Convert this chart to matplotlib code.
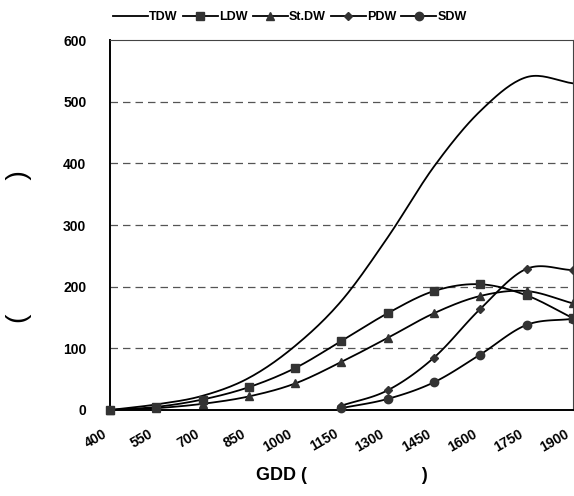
import matplotlib.pyplot as plt
import matplotlib.transforms as mtransforms
import numpy as np

plt.rcParams['font.family'] = ['Liberation Sans', 'DejaVu Sans']
plt.rcParams['font.weight'] = 'bold'

gdd = [400, 550, 700, 850, 1000, 1150, 1300, 1450, 1600, 1750, 1900]
tdw = [0, 9, 23, 52, 104, 177, 280, 395, 485, 540, 530]
ldw = [0, 5, 17, 37, 68, 112, 157, 193, 204, 186, 149]
stdw = [0, 3, 10, 22, 43, 78, 117, 157, 185, 193, 173]
gdd_late = [1150, 1300, 1450, 1600, 1750, 1900]
pdw = [7, 32, 85, 164, 229, 227]
sdw = [3, 18, 45, 90, 138, 148]


def smooth(x, y, n=20):
    # catmull-rom curve through the points, like a spreadsheet "smoothed line"
    x = np.asarray(x, float)
    y = np.asarray(y, float)
    px = np.concatenate([[2 * x[0] - x[1]], x, [2 * x[-1] - x[-2]]])
    py = np.concatenate([[2 * y[0] - y[1]], y, [2 * y[-1] - y[-2]]])
    t = np.linspace(0, 1, n, endpoint=False)
    xs, ys = [], []
    for i in range(1, len(px) - 2):
        for p, out in ((px, xs), (py, ys)):
            p0, p1, p2, p3 = p[i - 1], p[i], p[i + 1], p[i + 2]
            out.extend(0.5 * (2 * p1 + (-p0 + p2) * t
                              + (2 * p0 - 5 * p1 + 4 * p2 - p3) * t ** 2
                              + (-p0 + 3 * p1 - 3 * p2 + p3) * t ** 3))
    xs.append(x[-1])
    ys.append(y[-1])
    return xs, ys


fig = plt.figure(figsize=(5.74, 4.96), dpi=100)
ax = fig.add_axes([0.1916, 0.1734, 0.8064, 0.7456])

series = [
    (gdd, tdw, 'TDW', None, 0),
    (gdd, ldw, 'LDW', 's', 6),
    (gdd, stdw, 'St.DW', '^', 6),
    (gdd_late, pdw, 'PDW', 'D', 4.5),
    (gdd_late, sdw, 'SDW', 'o', 6),
]
for x, y, name, mk, ms in series:
    sx, sy = smooth(x, y)
    ax.plot(sx, sy, color='black', lw=1.3)
    if mk:
        ax.plot(x, y, ls='none', marker=mk, ms=ms, color='#333333', clip_on=False, zorder=3)
    ax.plot([], [], color='black', lw=1.3, marker=mk, ms=ms, mfc='#333333', mec='#333333', label=name)

ax.set_xlim(400, 1900)
ax.set_ylim(0, 600)
ax.set_xticks(gdd)
ax.set_xticklabels([str(g) for g in gdd], rotation=30, ha='right', rotation_mode='anchor',
                   fontsize=10, fontweight='bold')
ax.set_yticks(range(0, 700, 100))
ax.tick_params(axis='y', length=0, labelsize=10, pad=17)
ax.tick_params(axis='x', length=0, pad=12)
# shift the rotated tick labels a little left, like the reference
offset = mtransforms.ScaledTranslation(-8 / 100, 0, fig.dpi_scale_trans)
for lab in ax.get_xticklabels():
    lab.set_transform(lab.get_transform() + offset)
for v in range(100, 600, 100):
    ax.axhline(v, color='#555555', lw=0.9, ls=(0, (6, 4)), zorder=0)
for s in ['left', 'bottom']:
    ax.spines[s].set_linewidth(1.4)
for s in ['top', 'right']:
    ax.spines[s].set_linewidth(0.8)
    ax.spines[s].set_color('#444444')

ax.set_xlabel('GDD (' + ' ' * 23 + ')', fontsize=13, fontweight='bold', labelpad=9)
ax.set_ylabel('(' + ' ' * 17 + ')', fontsize=20.5, fontweight='normal')
ax.yaxis.set_label_coords(-0.168, 0.442)

fig.legend(loc='upper center', bbox_to_anchor=(0.505, 1.0), ncol=5, frameon=False,
           handlelength=2.8, handletextpad=0.1, columnspacing=0.4,
           prop={'weight': 'bold', 'size': 9})

fig.savefig('out.png', dpi=100)
